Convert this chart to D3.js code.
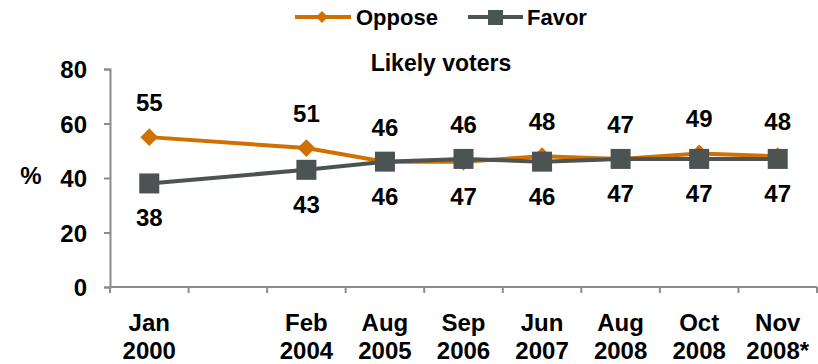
<!DOCTYPE html>
<html>
<head>
<meta charset="utf-8">
<script src="https://cdn.jsdelivr.net/npm/d3@7"></script>
<style>
  body { margin: 0; background: #fff; }
  text { font-family: "Liberation Sans", Arial, sans-serif; font-weight: bold; fill: #000; }
</style>
</head>
<body>
<div id="chart"></div>
<script>
// categories (one empty slot between Jan 2000 and Feb 2004)
var categories = ["Jan 2000", "gap", "Feb 2004", "Aug 2005", "Sep 2006", "Jun 2007", "Aug 2008", "Oct 2008", "Nov 2008*"];
var pointCats = ["Jan 2000", "Feb 2004", "Aug 2005", "Sep 2006", "Jun 2007", "Aug 2008", "Oct 2008", "Nov 2008*"];
var oppose = [55, 51, 46, 46, 48, 47, 49, 48];
var favor = [38, 43, 46, 47, 46, 47, 47, 47];
var yTicks = [0, 20, 40, 60, 80];

var width = 818, height = 364;
var margin = { top: 69, right: 1, bottom: 77, left: 110 };

var svg = d3.select("#chart").append("svg")
  .attr("width", width)
  .attr("height", height);

var xScale = d3.scaleBand()
  .domain(categories)
  .range([margin.left, width - margin.right]);

var yScale = d3.scaleLinear()
  .domain([0, 80])
  .range([height - margin.bottom, margin.top]);

var orange = "#CF7000", gray = "#4B5353", axisColor = "#8C8C8C";

// y axis
var yAxis = svg.append("g")
  .attr("transform", "translate(" + margin.left + ",0)")
  .call(d3.axisLeft(yScale).tickValues(yTicks).tickSize(6).tickPadding(17));
yAxis.select(".domain").attr("stroke", axisColor).attr("stroke-width", 2);
yAxis.selectAll("line").attr("stroke", axisColor).attr("stroke-width", 2);
yAxis.selectAll("text").style("font-size", "24px").attr("fill", "#000").attr("dy", "0.36em");

// x axis with ticks at band edges
var xAxisY = yScale(0);
svg.append("line")
  .attr("x1", margin.left).attr("x2", width - margin.right)
  .attr("y1", xAxisY).attr("y2", xAxisY)
  .attr("stroke", axisColor).attr("stroke-width", 2);
svg.selectAll(".xtick")
  .data(categories.concat(["end"]))
  .enter().append("line")
  .attr("class", "xtick")
  .attr("x1", function(d, i) { return margin.left + i * xScale.bandwidth(); })
  .attr("x2", function(d, i) { return margin.left + i * xScale.bandwidth(); })
  .attr("y1", xAxisY).attr("y2", xAxisY + 6)
  .attr("stroke", axisColor).attr("stroke-width", 2);

function cx(c) { return xScale(c) + xScale.bandwidth() / 2; }

// x labels (two lines)
var xl = svg.selectAll(".xlabel")
  .data(pointCats)
  .enter().append("text")
  .attr("class", "xlabel")
  .attr("text-anchor", "middle")
  .style("font-size", "24px")
  .attr("x", function(d) { return cx(d); })
  .attr("y", 331);
xl.append("tspan")
  .attr("x", function(d) { return cx(d); })
  .text(function(d) { return d.split(" ")[0]; });
xl.append("tspan")
  .attr("x", function(d) { return cx(d); })
  .attr("dy", 28)
  .text(function(d) { return d.split(" ")[1]; });

// "%" label
svg.append("text")
  .attr("x", 31).attr("y", 184)
  .attr("text-anchor", "middle")
  .style("font-size", "24px")
  .text("%");

// subtitle
svg.append("text")
  .attr("x", 441).attr("y", 71)
  .attr("text-anchor", "middle")
  .style("font-size", "23px")
  .text("Likely voters");

var line = d3.line()
  .x(function(d, i) { return cx(pointCats[i]); })
  .y(function(d) { return yScale(d); });

// oppose line + diamonds
svg.append("path")
  .datum(oppose)
  .attr("fill", "none")
  .attr("stroke", orange)
  .attr("stroke-width", 4)
  .attr("d", line);
svg.selectAll(".opp")
  .data(oppose)
  .enter().append("path")
  .attr("class", "opp")
  .attr("d", d3.symbol().type(d3.symbolDiamond2).size(200))
  .attr("fill", orange)
  .attr("transform", function(d, i) { return "translate(" + cx(pointCats[i]) + "," + yScale(d) + ")"; });

// favor line + squares
svg.append("path")
  .datum(favor)
  .attr("fill", "none")
  .attr("stroke", gray)
  .attr("stroke-width", 4)
  .attr("d", line);
svg.selectAll(".fav")
  .data(favor)
  .enter().append("rect")
  .attr("class", "fav")
  .attr("x", function(d, i) { return cx(pointCats[i]) - 10; })
  .attr("y", function(d) { return yScale(d) - 10; })
  .attr("width", 20).attr("height", 20)
  .attr("fill", gray);

// data labels
svg.selectAll(".oppLabel")
  .data(oppose)
  .enter().append("text")
  .attr("text-anchor", "middle")
  .style("font-size", "24px")
  .attr("x", function(d, i) { return cx(pointCats[i]); })
  .attr("y", function(d, i) { return Math.min(yScale(d), yScale(favor[i])) - 26; })
  .text(function(d) { return d; });
svg.selectAll(".favLabel")
  .data(favor)
  .enter().append("text")
  .attr("text-anchor", "middle")
  .style("font-size", "24px")
  .attr("x", function(d, i) { return cx(pointCats[i]); })
  .attr("y", function(d, i) { return Math.max(yScale(d), yScale(oppose[i])) + 43; })
  .text(function(d) { return d; });

// legend
var legend = svg.append("g");
legend.append("line").attr("x1", 295).attr("x2", 351).attr("y1", 17).attr("y2", 17)
  .attr("stroke", orange).attr("stroke-width", 4);
legend.append("path")
  .attr("d", d3.symbol().type(d3.symbolDiamond2).size(90))
  .attr("fill", orange)
  .attr("transform", "translate(322,17)");
legend.append("text").attr("x", 356).attr("y", 25).style("font-size", "22px").text("Oppose");
legend.append("line").attr("x1", 468).attr("x2", 523).attr("y1", 17).attr("y2", 17)
  .attr("stroke", gray).attr("stroke-width", 4);
legend.append("rect").attr("x", 488).attr("y", 10).attr("width", 15).attr("height", 15)
  .attr("fill", gray);
legend.append("text").attr("x", 527).attr("y", 25).style("font-size", "22px").text("Favor");
</script>
</body>
</html>
